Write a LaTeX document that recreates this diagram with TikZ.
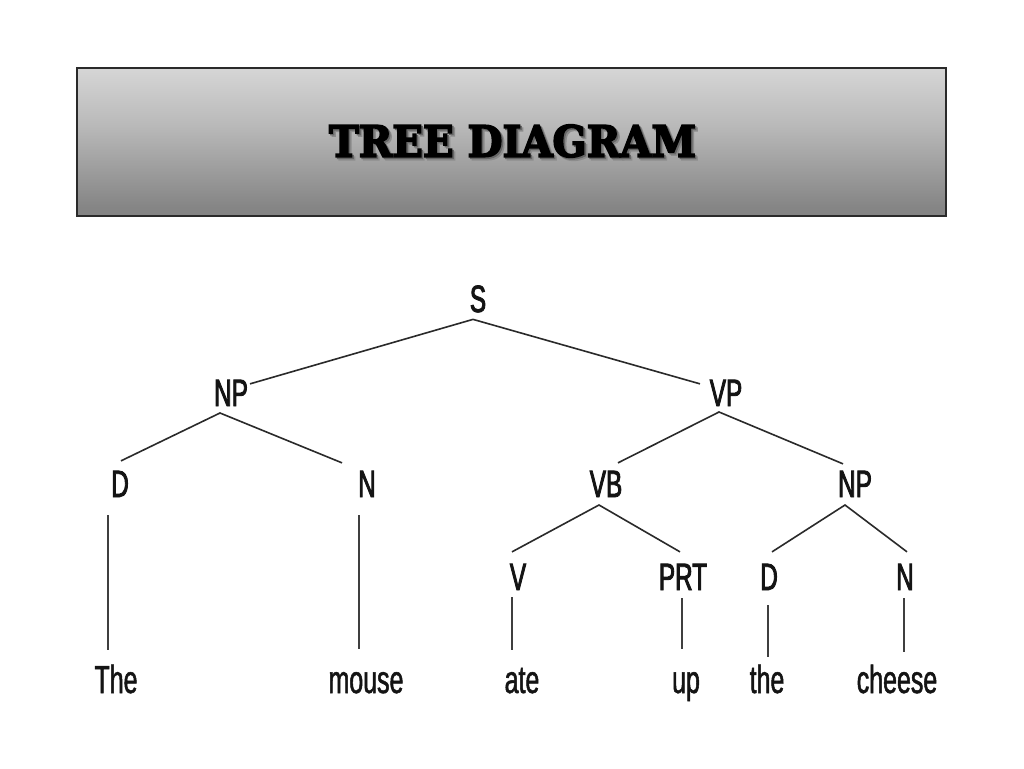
\documentclass[tikz,border=0pt]{standalone}
\usepackage{graphicx}
\usepackage{fontspec}
\usetikzlibrary{calc}
\newfontfamily\treefont[FakeStretch=0.64,FakeBold=2.2]{Liberation Sans}
\newfontfamily\wordfont[FakeStretch=0.64,FakeBold=1.3]{Liberation Sans}
\newfontfamily\titlefont[FakeBold=4]{DejaVu Serif Bold}
\newcommand\shtext[1]{\makebox[0pt][l]{\hspace{3pt}\raisebox{-3pt}[0pt][0pt]{\color{black!45}#1}}\makebox[0pt][l]{\hspace{1.5pt}\raisebox{-1.5pt}[0pt][0pt]{\color{black!60}#1}}#1}
\definecolor{txt}{HTML}{141414}
\definecolor{ln}{HTML}{2A2A2A}
\definecolor{g1}{HTML}{F6F6F6}
\definecolor{g2}{HTML}{E0E0E0}
\definecolor{g3}{HTML}{B8B8B8}
\definecolor{g4}{HTML}{858585}
\definecolor{g5}{HTML}{7E7E7E}
\definecolor{g6}{HTML}{BDBDBD}
\definecolor{g7}{HTML}{D4D4D4}
\pgfdeclareverticalshading{titlebar}{100bp}{color(0bp)=(g7); color(4bp)=(g6); color(16bp)=(g5); color(28bp)=(g4); color(55bp)=(g3); color(82bp)=(g2); color(100bp)=(g1)}
\tikzset{
  lab/.style={font=\treefont\fontsize{38}{40}\selectfont, text=txt, inner sep=0pt, outer sep=0pt, anchor=base},
  word/.style={lab, font=\wordfont\fontsize{39}{41}\selectfont},
  edge/.style={draw=ln, line width=1.6pt},
  stem/.style={draw=ln!90!white, line width=1.4pt},
}
\begin{document}
\begin{tikzpicture}[x=1pt,y=-1pt]
\useasboundingbox (0,0) rectangle (1024,768);
\fill[white] (0,0) rectangle (1024,768);
% title bar
\path[shading=titlebar] (77,68) rectangle (946,216);
\draw[ln, line width=1.3pt] (77,68) rectangle (946,216);
\node[inner sep=0pt, text=black] (title) at (512.5,141) {\shtext{\resizebox{367pt}{32pt}{\titlefont TREE DIAGRAM}}};
% tree labels
\node[lab] (S)   at (478,312) {S};
\node[lab] (NPa) at (231,406) {NP};
\node[lab] (VP)  at (726,406) {VP};
\node[lab] (Da)  at (120,497) {D};
\node[lab] (Na)  at (367,497) {N};
\node[lab] (VB)  at (606,497) {VB};
\node[lab] (NPb) at (855,497) {NP};
\node[lab] (V)   at (518,590) {V};
\node[lab] (PRT) at (683,590) {PRT};
\node[lab] (Db)  at (769,590) {D};
\node[lab] (Nb)  at (905,590) {N};
% words
\node[word] (w1) at (116,693) {The};
\node[word] (w2) at (366,693) {mouse};
\node[word] (w3) at (522,693) {ate};
\node[word] (w4) at (686,693) {up};
\node[word] (w5) at (767,693) {the};
\node[word] (w6) at (897,693) {cheese};
% branches
\draw[edge] ($(NPa.north)+(19,4)$) -- ($(S.south)+(-5,7)$) -- ($(VP.north)+(-26,4)$);
\draw[edge] ($(Da.north)+(1,-10)$) -- ($(NPa.south)+(-11,7)$) -- ($(Na.north)+(-25,-8)$);
\draw[edge] ($(VB.north)+(12,-8)$) -- ($(VP.south)+(-7,6)$) -- ($(NPb.north)+(-12,-7)$);
\draw[edge] ($(V.north)+(-6,-12)$) -- ($(VB.south)+(-7,8)$) -- ($(PRT.north)+(-3,-12)$);
\draw[edge] ($(Db.north)+(3,-12)$) -- ($(NPb.south)+(-10,8)$) -- ($(Nb.north)+(2,-12)$);
% stems
\draw[stem] ($(Da.south)+(-12,18)$) -- ($(w1.north)+(-8,-15)$);
\draw[stem] ($(Na.south)+(-8,18)$) -- ($(w2.north)+(-7,-23)$);
\draw[stem] ($(V.south)+(-6,7)$) -- ($(w3.north)+(-10,-18)$);
\draw[stem] ($(PRT.south)+(-1,8)$) -- ($(w4.north)+(-4,-23)$);
\draw[stem] ($(Db.south)+(-1,15)$) -- ($(w5.north)+(1,-8)$);
\draw[stem] ($(Nb.south)+(-1,8)$) -- ($(w6.north)+(7,-13)$);
\end{tikzpicture}
\end{document}
